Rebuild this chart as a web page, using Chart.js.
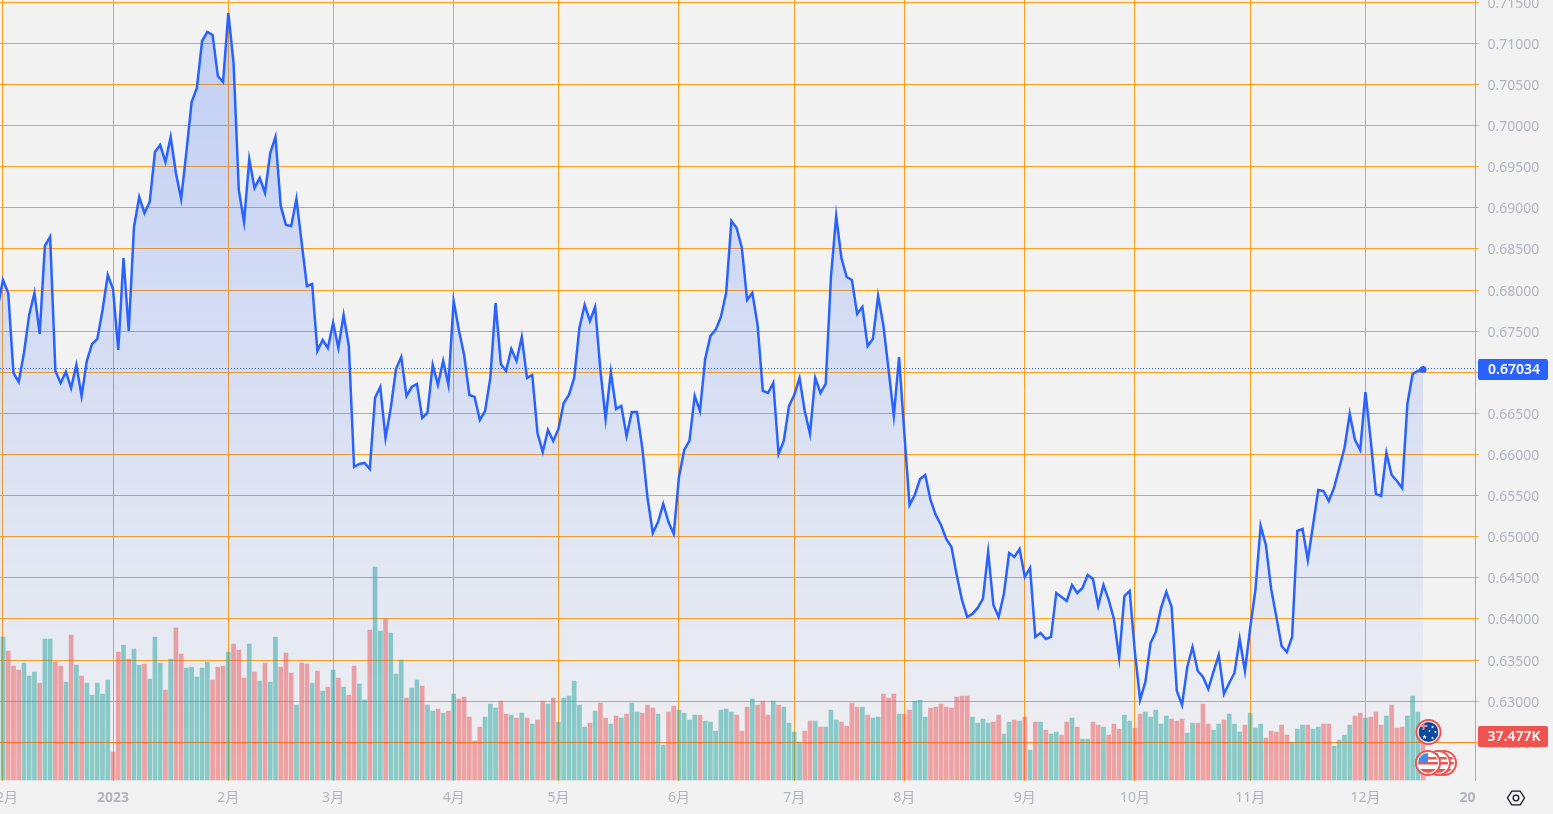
<!DOCTYPE html>
<html lang="zh">
<head>
<meta charset="utf-8">
<title>AUD/USD</title>
<script src="https://cdn.jsdelivr.net/npm/chart.js@4"></script>
<style>
html,body{margin:0;padding:0;background:#f2f2f2;overflow:hidden}
canvas{display:block}
</style>
</head>
<body>
<canvas id="c" width="1553" height="814"></canvas>
<script>
// index 0 is the bar just left of the view; trading-day index on the x axis
const prices = [
.67794,.68123,.67965,.66992,.66882,.67235,.67697,.67965,.67466,.68536,
.68646,.67016,.66870,.67004,.66809,.67089,.66712,.67138,.67344,.67405,
.67758,.68183,.68013,.67271,.68390,.67502,.68767,.69132,.68937,.69071,
.69679,.69765,.69558,.69862,.69424,.69108,.69679,.70287,.70458,.71029,
.71139,.71102,.70604,.70531,.71370,.70762,.69217,.68828,.69594,.69242,
.69363,.69181,.69667,.69862,.69023,.68792,.68779,.69108,.68573,.68050,
.68074,.67259,.67393,.67296,.67600,.67296,.67697,.67320,.65848,.65885,
.65897,.65824,.66688,.66821,.66201,.66566,.67040,.67186,.66712,.66821,
.66858,.66444,.66505,.67089,.66846,.67138,.66846,.67867,.67515,.67210,
.66724,.66700,.66420,.66529,.66931,.67843,.67101,.67016,.67283,.67138,
.67429,.66931,.66967,.66262,.66031,.66298,.66165,.66311,.66627,.66724,
.66931,.67539,.67819,.67624,.67794,.67028,.66432,.67004,.66554,.66590,
.66225,.66517,.66517,.66079,.65471,.65046,.65179,.65398,.65179,.65034,
.65727,.66055,.66165,.66712,.66529,.67162,.67442,.67515,.67673,.67965,
.68840,.68755,.68512,.67879,.67965,.67575,.66773,.66748,.66870,.66006,
.66165,.66590,.66724,.66931,.66529,.66250,.66931,.66748,.66858,.68159,
.68901,.68390,.68159,.68123,.67709,.67794,.67320,.67405,.67928,.67575,
.67028,.66469,.67186,.66262,.65386,.65508,.65702,.65751,.65447,.65265,
.65143,.64973,.64875,.64535,.64231,.64024,.64061,.64134,.64243,.64815,
.64170,.64024,.64304,.64802,.64754,.64851,.64511,.64620,.63781,.63829,
.63756,.63781,.64316,.64267,.64219,.64413,.64316,.64377,.64535,.64486,
.64158,.64413,.64231,.64000,.63525,.64279,.64340,.63598,.63015,.63234,
.63708,.63842,.64134,.64328,.64146,.63124,.62954,.63416,.63659,.63367,
.63294,.63148,.63355,.63562,.63088,.63221,.63343,.63756,.63367,.63890,
.64352,.65131,.64900,.64365,.64024,.63671,.63598,.63781,.65070,.65094,
.64717,.65143,.65569,.65556,.65435,.65593,.65836,.66079,.66493,.66177,
.66055,.66760,.66177,.65520,.65496,.66019,.65751,.65678,.65593,.66615,
.66979,.67016,.67034];
// volume in thousands
const volumes = [
100,143,129,114,110,117,104,108,97,141,
141,118,114,98,145,115,104,97,85,97,
86,100,28,128,135,121,131,115,116,101,
143,117,90,121,152,126,112,113,103,112,
118,100,113,114,128,136,130,102,136,108,
99,117,98,143,113,127,107,75,117,116,
97,109,89,93,110,102,93,85,114,96,
80,150,213,149,161,147,106,120,82,92,
100,94,75,69,71,67,69,86,81,83,
63,39,53,63,76,72,79,66,65,62,
67,62,56,60,79,76,82,58,82,84,
99,75,53,57,69,77,62,56,64,62,
66,77,68,67,75,72,66,35,68,74,
70,67,60,65,65,59,58,49,70,71,
68,65,49,73,81,75,79,65,79,75,
73,57,48,38,49,59,59,53,53,70,
60,58,54,77,73,73,65,62,63,86,
82,86,66,66,70,79,80,63,72,73,
76,73,72,83,84,84,63,57,61,57,
58,65,46,58,60,59,63,30,58,58,
50,46,48,45,58,62,53,41,41,58,
55,53,45,56,51,65,59,52,66,68,
63,70,56,64,61,59,61,47,57,57,
76,56,50,56,60,66,56,48,55,67,
52,56,42,49,48,55,45,38,51,55,
55,51,53,56,56,34,40,45,55,64,
67,62,63,68,55,64,75,52,53,64,
84,68,37.477];
// 1 = close up (green), 0 = close down (red)
const volumeUp = [
1,1,0,0,0,1,1,1,0,1,
1,0,0,1,0,1,0,1,1,1,
1,1,0,0,1,0,1,1,0,1,
1,1,0,1,0,0,1,1,1,1,
1,0,0,0,1,0,0,0,1,0,
1,0,1,1,0,0,0,1,0,0,
1,0,1,0,1,0,1,0,0,1,
1,0,1,1,0,1,1,1,0,1,
1,0,1,1,0,1,0,1,0,0,
0,0,0,1,1,1,0,0,1,0,
1,0,1,0,0,1,0,1,1,1,
1,1,1,0,1,0,0,1,0,1,
0,1,1,0,0,0,1,1,0,0,
1,1,1,1,0,1,1,1,1,1,
1,0,0,0,1,0,0,0,1,0,
1,1,1,1,0,0,1,0,1,1,
1,0,0,0,0,1,0,1,1,0,
0,0,1,0,0,1,1,1,0,0,
0,0,0,0,0,0,1,1,1,1,
0,0,1,1,0,1,0,1,0,1,
0,1,1,0,0,1,0,1,1,0,
0,1,0,0,0,1,1,0,0,1,
1,1,1,1,0,0,0,1,1,0,
0,0,1,1,0,1,1,1,0,1,
1,1,0,0,0,0,0,1,1,1,
0,1,1,0,0,1,1,1,1,0,
0,1,0,0,0,1,0,0,0,1,
1,1,0];
const monthTickIndex = [1,22,44,64,87,107,130,152,173,196,217,239,261,282];
const monthTickLabels = ["12月","2023","2月","3月","4月","5月","6月","7月","8月","9月","10月","11月","12月","2024"];
const priceTicks = [.625,.63,.635,.64,.645,.65,.655,.66,.665,.67,.675,.68,.685,.69,.695,.70,.705,.71,.715];
const lastPriceLabel = "0.67034";
const lastVolumeLabel = "37.477K";

const FONT = "'Noto Sans','Noto Sans CJK SC',sans-serif";
const ORANGE = "#ff9f1c";
const BLUE = "#2962ff";
const RED = "#ef5350";

function star(ctx,x,y,r){ctx.beginPath();for(let i=0;i<10;i++){const a=-Math.PI/2+i*Math.PI/5,q=i%2?r*.45:r;ctx.lineTo(x+q*Math.cos(a),y+q*Math.sin(a));}ctx.closePath();ctx.fill();}
function badge(ctx,cx,cy,paint){
  ctx.save();
  ctx.beginPath();ctx.arc(cx,cy,13,0,Math.PI*2);ctx.fillStyle=RED;ctx.fill();
  ctx.beginPath();ctx.arc(cx,cy,11,0,Math.PI*2);ctx.fillStyle="#fff";ctx.fill();
  ctx.beginPath();ctx.arc(cx,cy,10,0,Math.PI*2);ctx.clip();
  paint(cx,cy);
  ctx.restore();
}
function usFlag(ctx,cx,cy){
  ctx.fillStyle="#fff";ctx.fillRect(cx-10,cy-10,20,20);
  ctx.fillStyle="#ef5350";
  ctx.fillRect(cx-10,cy-6,20,2.5);ctx.fillRect(cx-10,cy-1,20,2.5);ctx.fillRect(cx-10,cy+6,20,4);
  ctx.fillStyle="#3f8fe8";ctx.fillRect(cx-10,cy-10,10,9.5);
}
function auFlag(ctx,cx,cy){
  ctx.fillStyle="#0d4a9e";ctx.fillRect(cx-10,cy-10,20,20);
  ctx.fillStyle="#e58a96";ctx.fillRect(cx-9,cy-7,8,2);ctx.fillRect(cx-6,cy-10,2,8);
  ctx.fillStyle="#fff";
  star(ctx,cx-4,cy+5,2.4);star(ctx,cx+4,cy-5,1.6);star(ctx,cx+7,cy,1.6);star(ctx,cx+4,cy+6,1.6);star(ctx,cx+1,cy-1,1.3);
}
const overlay = {
  id:"overlay",
  afterDatasetsDraw(chart){
    const {ctx,chartArea:a,scales}=chart, W=chart.width, H=chart.height;
    const yLast=Math.floor(scales.y.getPixelForValue(prices[prices.length-1]))-0.5;
    const yVol=Math.floor(scales.yVol.getPixelForValue(volumes[volumes.length-1]))+0.5;
    ctx.save();
    // last-price dotted line
    ctx.strokeStyle=BLUE;ctx.lineWidth=1;ctx.setLineDash([1,2]);
    ctx.beginPath();ctx.moveTo(0,yLast);ctx.lineTo(a.right,yLast);ctx.stroke();
    ctx.setLineDash([]);
    // last-volume line
    ctx.strokeStyle="rgba(255,86,20,.35)";
    ctx.beginPath();ctx.moveTo(0,yVol);ctx.lineTo(a.right,yVol);ctx.stroke();
    // price-scale panel hides the part of the cut-off date label
    ctx.fillStyle="#f2f2f2";ctx.fillRect(1476,a.bottom,W-1476,H-a.bottom);
    // badges
    badge(ctx,1444,763,(x,y)=>usFlag(ctx,x,y));
    badge(ctx,1438,763,(x,y)=>usFlag(ctx,x,y));
    badge(ctx,1428,763,(x,y)=>usFlag(ctx,x,y));
    badge(ctx,1428.5,732,(x,y)=>auFlag(ctx,x,y));
    // value labels
    ctx.textAlign="center";ctx.textBaseline="middle";ctx.font="600 14px "+FONT;
    const tag=(top,h,col,txt)=>{ctx.fillStyle=col;ctx.beginPath();ctx.roundRect(1478,top,70,h,2);ctx.fill();ctx.fillStyle="#fff";ctx.fillText(txt,1514,top+h/2+1);};
    tag(359,21,BLUE,lastPriceLabel);
    tag(726,21,RED,lastVolumeLabel);
    // settings hexagon
    ctx.strokeStyle="#131722";ctx.lineWidth=1.3;
    const gx=1516,gy=798;
    ctx.beginPath();
    for(let i=0;i<6;i++){const t=i*Math.PI/3;ctx.lineTo(gx+8.5*Math.cos(t),gy+8*Math.sin(t));}
    ctx.closePath();ctx.stroke();
    ctx.beginPath();ctx.arc(gx,gy,2.8,0,Math.PI*2);ctx.stroke();
    ctx.restore();
  }
};

new Chart(document.getElementById("c"),{
  data:{datasets:[
    {type:"line",label:"AUD/USD",order:0,yAxisID:"y",xAxisID:"x",
     data:prices.map((p,i)=>({x:i,y:p})),
     borderColor:BLUE,borderWidth:2.5,tension:0,borderJoinStyle:"miter",
     pointRadius:c=>c.dataIndex===prices.length-1?3.5:0,
     pointBackgroundColor:BLUE,pointBorderWidth:0,
     fill:"start",
     backgroundColor:c=>{
       const ch=c.chart;if(!ch.chartArea)return "rgba(41,98,255,.1)";
       const g=ch.ctx.createLinearGradient(0,13,0,ch.chartArea.bottom);
       g.addColorStop(0,"rgba(41,98,255,.24)");g.addColorStop(1,"rgba(41,98,255,.01)");
       return g;
     }},
    {type:"bar",label:"Volume",order:1,yAxisID:"yVol",xAxisID:"x",
     data:volumes.map((v,i)=>({x:i,y:v})),
     barThickness:4,borderWidth:0,
     backgroundColor:volumeUp.map(u=>u?"rgba(38,166,154,.5)":"rgba(239,83,80,.5)")}
  ]},
  options:{
    responsive:false,animation:false,devicePixelRatio:1,
    layout:{padding:0,autoPadding:false},
    plugins:{legend:{display:false},tooltip:{enabled:false}},
    scales:{
      x:{type:"linear",position:"bottom",min:.43,max:282,offset:false,
        afterBuildTicks:s=>{s.ticks=monthTickIndex.map(v=>({value:v}));},
        afterFit:s=>{s.height=33;s.paddingLeft=0;s.paddingRight=0;},
        border:{display:false},
        grid:{offset:false,color:ORANGE,lineWidth:1,drawTicks:false},
        ticks:{autoSkip:false,maxRotation:0,minRotation:0,padding:9,color:"#b2b5be",
          callback:v=>monthTickLabels[monthTickIndex.indexOf(v)],
          font:c=>({family:FONT,size:14,weight:(c.tick&&(c.tick.value===22||c.tick.value===282))?"700":"400"})}
      },
      y:{type:"linear",position:"right",min:.62029,max:.715278,
        afterBuildTicks:s=>{s.ticks=priceTicks.map(v=>({value:v}));},
        afterFit:s=>{s.width=77.5;s.paddingTop=0;s.paddingBottom=0;},
        border:{display:false},
        grid:{color:ORANGE,lineWidth:1,tickLength:3},
        ticks:{autoSkip:false,padding:9,labelOffset:1.5,color:"#b2b5be",crossAlign:"near",
          callback:v=>v.toFixed(5),font:{family:FONT,size:14}}
      },
      yVol:{type:"linear",display:false,min:-1,max:780}
    }
  },
  plugins:[overlay]
});
</script>
</body>
</html>
